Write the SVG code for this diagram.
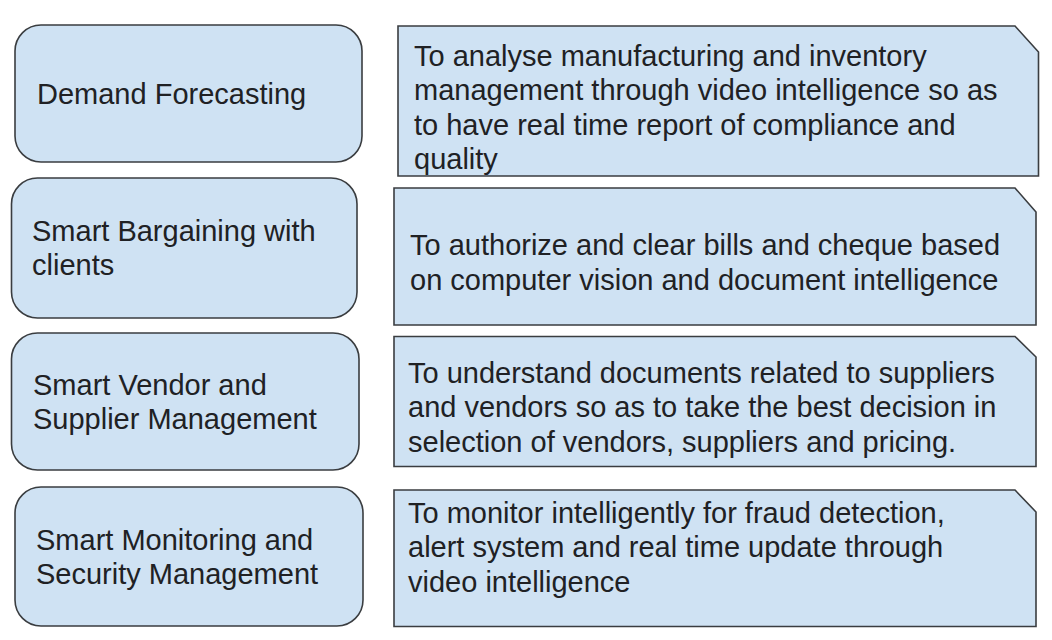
<svg xmlns="http://www.w3.org/2000/svg" width="1052" height="640" viewBox="0 0 1052 640">
<style>
.box{fill:#cfe2f3;stroke:#3a3d40;stroke-width:1.6}
text{font-family:"Liberation Sans",Arial,sans-serif;font-size:29px;fill:#202124}
</style>
<rect width="1052" height="640" fill="#ffffff"/>
<g id="left1"><rect class="box" x="15" y="25" width="347" height="137" rx="26" ry="26"/><text x="37" y="104">Demand Forecasting</text></g>
<g id="left2"><rect class="box" x="11.5" y="178" width="345.5" height="140" rx="26" ry="26"/><text x="32" y="241">Smart Bargaining with</text><text x="32" y="275">clients</text></g>
<g id="left3"><rect class="box" x="11.5" y="333" width="347.5" height="137" rx="26" ry="26"/><text x="33" y="395">Smart Vendor and</text><text x="33" y="429">Supplier Management</text></g>
<g id="left4"><rect class="box" x="15" y="487" width="348" height="139" rx="26" ry="26"/><text x="36" y="550">Smart Monitoring and</text><text x="36" y="584">Security Management</text></g>
<g id="right1"><path class="box" d="M398 26 H1015 L1038.5 52 V176 H398 Z"/><text x="414" y="66">To analyse manufacturing and inventory</text><text x="414" y="100">management through video intelligence so as</text><text x="414" y="135">to have real time report of compliance and</text><text x="414" y="169">quality</text></g>
<g id="right2"><path class="box" d="M394 188 H1015 L1036 212 V325 H394 Z"/><text x="410" y="255">To authorize and clear bills and cheque based</text><text x="410" y="290">on computer vision and document intelligence</text></g>
<g id="right3"><path class="box" d="M394 336.5 H1015 L1036 357 V466.5 H394 Z"/><text x="408" y="383">To understand documents related to suppliers</text><text x="408" y="417">and vendors so as to take the best decision in</text><text x="408" y="452">selection of vendors, suppliers and pricing.</text></g>
<g id="right4"><path class="box" d="M394 490 H1015 L1036 512 V626.5 H394 Z"/><text x="408" y="523">To monitor intelligently for fraud detection,</text><text x="408" y="557">alert system and real time update through</text><text x="408" y="592">video intelligence</text></g>
<g id="connectors"/>
</svg>
